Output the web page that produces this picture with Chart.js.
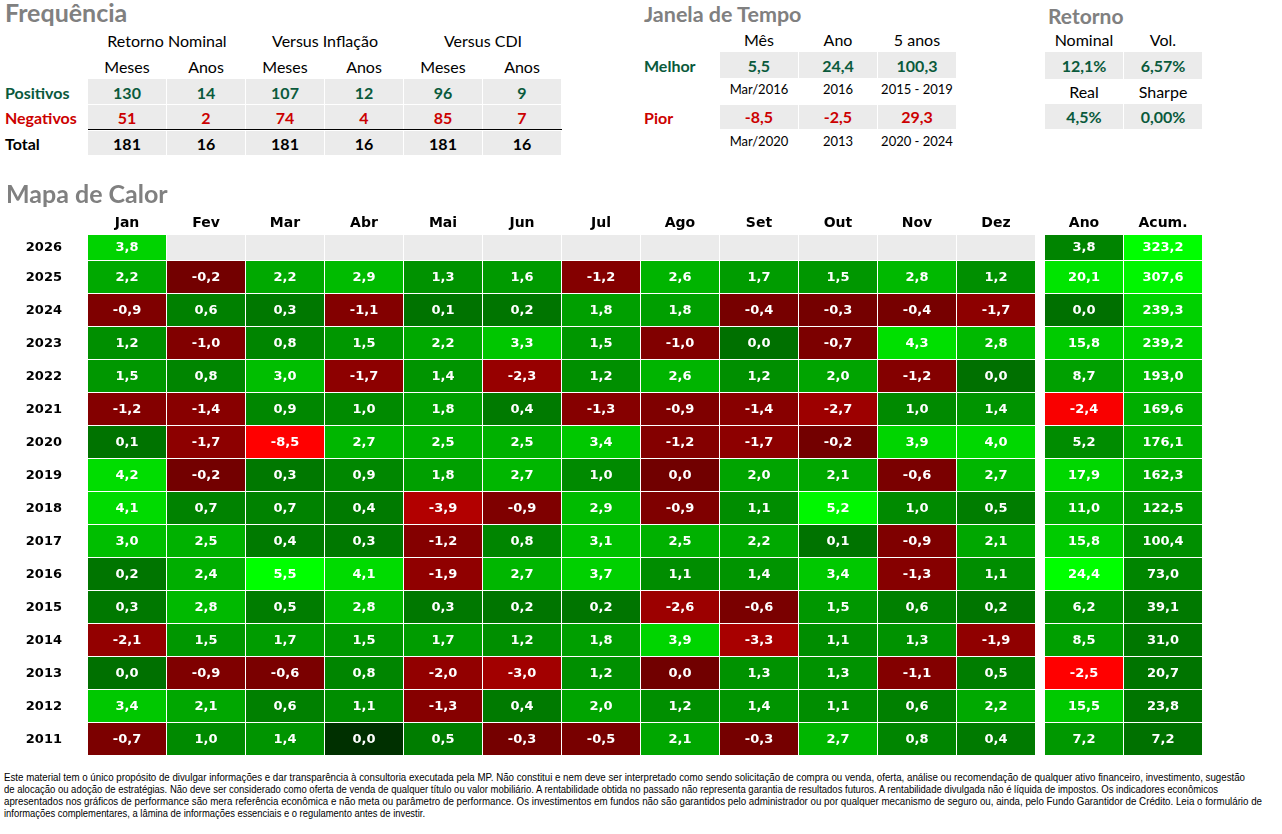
<!DOCTYPE html>
<html><head><meta charset="utf-8">
<script src="https://cdn.jsdelivr.net/npm/chart.js@4/dist/chart.umd.min.js"></script>
<style>
html,body{margin:0;padding:0;background:#fff;}
body{width:1282px;height:834px;overflow:hidden;position:relative;font-family:Lato,"Open Sans",sans-serif;color:#000;}
.abs{position:absolute;white-space:nowrap;line-height:1;}
.title{font-weight:bold;font-size:22px;color:#808080;}
.hdr{font-size:16px;}
.sub{font-size:13px;}
.val{font-weight:bold;font-size:16px;}
.pos{color:#0A5A3C;}
.neg{color:#CC0000;}
.box{position:absolute;background:#EBEBEB;}
.foot{position:absolute;left:4px;white-space:nowrap;font-family:"Liberation Sans Narrow","Liberation Sans",sans-serif;font-size:10.5px;line-height:1;transform-origin:0 50%;}
canvas{position:absolute;left:0;}
</style>
</head><body>
<canvas id="c2026"></canvas>
<canvas id="cRest"></canvas>
<script>
// ---------------- DATA ----------------
const months = ['Jan','Fev','Mar','Abr','Mai','Jun','Jul','Ago','Set','Out','Nov','Dez'];
const summaryCols = ['Ano','Acum.'];
const years = ['2026','2025','2024','2023','2022','2021','2020','2019','2018','2017','2016','2015','2014','2013','2012','2011'];
const monthlyReturns = [
  [3.8, null, null, null, null, null, null, null, null, null, null, null],
  [2.2, -0.2, 2.2, 2.9, 1.3, 1.6, -1.2, 2.6, 1.7, 1.5, 2.8, 1.2],
  [-0.9, 0.6, 0.3, -1.1, 0.1, 0.2, 1.8, 1.8, -0.4, -0.3, -0.4, -1.7],
  [1.2, -1.0, 0.8, 1.5, 2.2, 3.3, 1.5, -1.0, 0.0, -0.7, 4.3, 2.8],
  [1.5, 0.8, 3.0, -1.7, 1.4, -2.3, 1.2, 2.6, 1.2, 2.0, -1.2, 0.0],
  [-1.2, -1.4, 0.9, 1.0, 1.8, 0.4, -1.3, -0.9, -1.4, -2.7, 1.0, 1.4],
  [0.1, -1.7, -8.5, 2.7, 2.5, 2.5, 3.4, -1.2, -1.7, -0.2, 3.9, 4.0],
  [4.2, -0.2, 0.3, 0.9, 1.8, 2.7, 1.0, -0.04, 2.0, 2.1, -0.6, 2.7],
  [4.1, 0.7, 0.7, 0.4, -3.9, -0.9, 2.9, -0.9, 1.1, 5.2, 1.0, 0.5],
  [3.0, 2.5, 0.4, 0.3, -1.2, 0.8, 3.1, 2.5, 2.2, 0.1, -0.9, 2.1],
  [0.2, 2.4, 5.5, 4.1, -1.9, 2.7, 3.7, 1.1, 1.4, 3.4, -1.3, 1.1],
  [0.3, 2.8, 0.5, 2.8, 0.3, 0.2, 0.2, -2.6, -0.6, 1.5, 0.6, 0.2],
  [-2.1, 1.5, 1.7, 1.5, 1.7, 1.2, 1.8, 3.9, -3.3, 1.1, 1.3, -1.9],
  [0.0, -0.9, -0.6, 0.8, -2.0, -3.0, 1.2, -0.04, 1.3, 1.3, -1.1, 0.5],
  [3.4, 2.1, 0.6, 1.1, -1.3, 0.4, 2.0, 1.2, 1.4, 1.1, 0.6, 2.2],
  [-0.7, 1.0, 1.4, 0.0, 0.5, -0.3, -0.5, 2.1, -0.3, 2.7, 0.8, 0.4]
];
const yearReturns = [3.8, 20.1, 0.0, 15.8, 8.7, -2.4, 5.2, 17.9, 11.0, 15.8, 24.4, 6.2, 8.5, -2.5, 15.5, 7.2];
const accumReturns = [323.2, 307.6, 239.3, 239.2, 193.0, 169.6, 176.1, 162.3, 122.5, 100.4, 73.0, 39.1, 31.0, 20.7, 23.8, 7.2];

const freqGroups = ['Retorno Nominal', 'Versus Inflação', 'Versus CDI'];
const freqSubs = ['Meses', 'Anos'];
const freqRowLabels = ['Positivos', 'Negativos', 'Total'];
const freqPositive = [130, 14, 107, 12, 96, 9];
const freqNegative = [51, 2, 74, 4, 85, 7];
const freqTotal = [181, 16, 181, 16, 181, 16];

const windowCols = ['Mês', 'Ano', '5 anos'];
const windowBest = [5.5, 24.4, 100.3];
const windowBestWhen = ['Mar/2016', '2016', '2015 - 2019'];
const windowWorst = [-8.5, -2.5, 29.3];
const windowWorstWhen = ['Mar/2020', '2013', '2020 - 2024'];

const returnTopLabels = ['Nominal', 'Vol.'];
const returnTopValues = [12.1, 6.57];
const returnBottomLabels = ['Real', 'Sharpe'];
const returnBottomValues = [4.5, 0.00];

const disclaimer = [
  'Este material tem o único propósito de divulgar informações e dar transparência à consultoria executada pela MP. Não constitui e nem deve ser interpretado como sendo solicitação de compra ou venda, oferta, análise ou recomendação de qualquer ativo financeiro, investimento, sugestão',
  'de alocação ou adoção de estratégias. Não deve ser considerado como oferta de venda de qualquer título ou valor mobiliário. A rentabilidade obtida no passado não representa garantia de resultados futuros. A rentabilidade divulgada não é líquida de impostos. Os indicadores econômicos',
  'apresentados nos gráficos de performance são mera referência econômica e não meta ou parâmetro de performance. Os investimentos em fundos não são garantidos pelo administrador ou por qualquer mecanismo de seguro ou, ainda, pelo Fundo Garantidor de Crédito. Leia o formulário de',
  'informações complementares, a lâmina de informações essenciais e o regulamento antes de investir.'
];

// ---------------- HELPERS ----------------
function fmt(v, d) {
  if (Math.abs(v) < 0.5 * Math.pow(10, -d)) v = 0;
  return v.toFixed(d).replace('.', ',');
}
function put(text, x, y, cls, left, size) {
  const el = document.createElement('div');
  el.className = 'abs ' + (cls || '');
  el.textContent = text;
  el.style.left = x + 'px';
  el.style.top = y + 'px';
  if (size) el.style.fontSize = size + 'px';
  el.style.transform = left ? 'translate(0,-50%)' : 'translate(-50%,-50%)';
  document.body.appendChild(el);
  return el;
}
function box(x, y, w, h) {
  const el = document.createElement('div');
  el.className = 'box';
  el.style.left = x + 'px'; el.style.top = y + 'px';
  el.style.width = w + 'px'; el.style.height = h + 'px';
  document.body.appendChild(el);
}

// ---------------- TOP TABLES ----------------
const PITCH = 79, X0 = 88, CW = 78;
const colX = i => X0 + i * PITCH;
const colC = i => X0 + i * PITCH + CW / 2;

// Frequência
put('Frequência', 5, 12, 'title', true, 25);
freqGroups.forEach((g, i) => put(g, colX(2 * i) + PITCH, 41, 'hdr'));
for (let i = 0; i < 6; i++) put(freqSubs[i % 2], colC(i), 67, 'hdr');
const freqRows = [[freqPositive, 'pos', 79, 25, 93], [freqNegative, 'neg', 105, 24, 118], [freqTotal, '', 131, 24, 144]];
freqRows.forEach((r, ri) => {
  put(freqRowLabels[ri], 5, r[4], 'val ' + r[1], true);
  r[0].forEach((v, i) => { box(colX(i), r[2], CW, r[3]); });
});
freqRows.forEach((r) => r[0].forEach((v, i) => put(String(v), colC(i), r[4], 'val ' + r[1])));
(function () { const l = document.createElement('div'); l.style.cssText = 'position:absolute;left:88px;top:129px;width:474px;height:1px;background:#000;'; document.body.appendChild(l); })();

// Janela de Tempo
put('Janela de Tempo', 644, 15, 'title', true, 21.5);
windowCols.forEach((c, i) => put(c, colC(8 + i), 40, 'hdr'));
put('Melhor', 644, 66, 'val pos', true);
put('Pior', 644, 118, 'val neg', true);
windowBest.forEach((v, i) => box(colX(8 + i), 52, CW, 26));
windowWorst.forEach((v, i) => box(colX(8 + i), 105, CW, 24));
windowBest.forEach((v, i) => put(fmt(v, 1), colC(8 + i), 66, 'val pos'));
windowWorst.forEach((v, i) => put(fmt(v, 1), colC(8 + i), 117, 'val neg'));
windowBestWhen.forEach((t, i) => put(t, colC(8 + i), 89, 'sub'));
windowWorstWhen.forEach((t, i) => put(t, colC(8 + i), 141, 'sub'));

// Retorno
const RX = 1045;
put('Retorno', 1048, 15, 'title', true, 21);
returnTopLabels.forEach((t, i) => put(t, RX + i * PITCH + CW / 2, 40, 'hdr'));
returnBottomLabels.forEach((t, i) => put(t, RX + i * PITCH + CW / 2, 92, 'hdr'));
returnTopValues.forEach((v, i) => box(RX + i * PITCH, 52, CW, 27));
returnBottomValues.forEach((v, i) => box(RX + i * PITCH, 104, CW, 25));
returnTopValues.forEach((v, i) => put(fmt(v, i === 0 ? 1 : 2) + '%', RX + i * PITCH + CW / 2, 66, 'val pos'));
returnBottomValues.forEach((v, i) => put(fmt(v, i === 0 ? 1 : 2) + '%', RX + i * PITCH + CW / 2, 117, 'val pos'));

// Mapa de Calor title
put('Mapa de Calor', 6, 193, 'title', true, 25);

// Disclaimer
const footTargets = [1241, 1214, 1258, 421];
disclaimer.forEach((t, i) => {
  const el = document.createElement('div');
  el.className = 'foot';
  el.textContent = t;
  el.style.top = (772 + i * 12) + 'px';
  document.body.appendChild(el);
  const w = el.getBoundingClientRect().width;
  el.style.transform = 'scaleX(' + (footTargets[i] / w) + ')';
});

// ---------------- HEATMAP (Chart.js) ----------------
const GAP = 9 / PITCH;
const monthVals = monthlyReturns.flat().filter(v => v !== null);
const ranges = [
  { max: Math.max(...monthVals), min: Math.min(...monthVals), exp: 1.0 },
  { max: Math.max(...yearReturns), min: Math.min(...yearReturns), exp: 1.05 },
  { max: Math.max(...accumReturns), min: Math.min(0, ...accumReturns), exp: 1.3 }
];
const specialCells = { '2011|3': '#003000' };

function cellValue(ci, ri) {
  if (ri === undefined || ri === null) return null;
  if (ci < 12) return monthlyReturns[ri][ci];
  return ci === 12 ? yearReturns[ri] : accumReturns[ri];
}
function cellColor(ci, ri) {
  const v = cellValue(ci, ri);
  if (v === null || v === undefined) return '#EBEBEB';
  const sp = specialCells[years[ri] + '|' + ci];
  if (sp) return sp;
  const r = ranges[ci < 12 ? 0 : ci - 11];
  if (v >= 0) {
    const t = Math.pow(v / r.max, r.exp);
    return 'rgb(0,' + Math.round(112 + 143 * t) + ',0)';
  }
  const t = Math.min(1, Math.abs(v) / Math.abs(r.min));
  return 'rgb(' + Math.round(112 + 143 * t) + ',0,0)';
}

const cellFont = 'bold 13px "DejaVu Sans", Verdana, sans-serif';
const headFont = 'bold 14px "DejaVu Sans", Verdana, sans-serif';

const cellLabels = {
  id: 'cellLabels',
  afterDatasetsDraw(chart) {
    const ctx = chart.ctx;
    ctx.save();
    ctx.font = cellFont;
    ctx.fillStyle = '#fff';
    ctx.textAlign = 'center';
    ctx.textBaseline = 'middle';
    chart.data.datasets.forEach((ds, di) => {
      if (ds.colIndex === undefined) return;
      const meta = chart.getDatasetMeta(di);
      meta.data.forEach((el, k) => {
        const v = cellValue(ds.colIndex, ds.rowIdx[k]);
        if (v === null || v === undefined) return;
        const cx = (el.x + el.base) / 2 - 0.5;
        ctx.fillText(fmt(v, 1), cx, el.y);
      });
    });
    ctx.restore();
  }
};
const colHeaders = {
  id: 'colHeaders',
  afterDatasetsDraw(chart, args, opts) {
    if (!opts.show) return;
    const ctx = chart.ctx;
    ctx.save();
    ctx.font = headFont;
    ctx.fillStyle = '#000';
    ctx.textAlign = 'center';
    ctx.textBaseline = 'middle';
    chart.data.datasets.forEach((ds, di) => {
      if (ds.colIndex === undefined) return;
      const el = chart.getDatasetMeta(di).data[0];
      if (!el) return;
      ctx.fillText(ds.label, (el.x + el.base) / 2 - 0.5, chart.chartArea.top - 12);
    });
    ctx.restore();
  }
};

function makeHeatmap(canvasId, top, height, padTop, rowIdx, showHeaders) {
  const cv = document.getElementById(canvasId);
  cv.style.top = top + 'px';
  cv.style.width = '1203px';
  cv.style.height = height + 'px';
  cv.width = 1203; cv.height = height;
  const colLabels = months.concat(summaryCols);
  const datasets = [];
  const mk = ci => ({
    label: colLabels[ci],
    colIndex: ci,
    rowIdx: rowIdx,
    data: rowIdx.map(() => 1),
    backgroundColor: ctx => cellColor(ci, ctx.type === 'data' ? rowIdx[ctx.dataIndex] : undefined),
    borderColor: '#ffffff',
    borderWidth: { top: 0, left: 0, right: 1, bottom: 1 },
    borderSkipped: false,
    inflateAmount: 0,
    barPercentage: 1,
    categoryPercentage: 1,
    stack: 'grid'
  });
  for (let ci = 0; ci < 12; ci++) datasets.push(mk(ci));
  datasets.push({
    label: 'gap', data: rowIdx.map(() => GAP), backgroundColor: 'rgba(0,0,0,0)',
    borderWidth: 0, barPercentage: 1, categoryPercentage: 1, stack: 'grid'
  });
  datasets.push(mk(12));
  datasets.push(mk(13));
  return new Chart(cv, {
    type: 'bar',
    data: { labels: rowIdx.map(i => years[i]), datasets },
    options: {
      indexAxis: 'y',
      responsive: false,
      maintainAspectRatio: false,
      animation: false,
      devicePixelRatio: 1,
      layout: { padding: { top: padTop, left: 0, right: 0, bottom: 0 }, autoPadding: false },
      plugins: { legend: { display: false }, tooltip: { enabled: false }, colHeaders: { show: showHeaders } },
      scales: {
        x: { type: 'linear', stacked: true, min: 0, max: 14 + GAP, display: false },
        y: {
          type: 'category', stacked: true, offset: true,
          grid: { display: false, drawTicks: false, tickLength: 0 },
          border: { display: false },
          ticks: { color: '#000', font: { family: '"DejaVu Sans", Verdana, sans-serif', size: 13, weight: 'bold' }, padding: 26, crossAlign: 'near' },
          afterFit: s => { s.width = X0; s.paddingTop = 0; s.paddingBottom = 0; }
        }
      }
    },
    plugins: [cellLabels, colHeaders]
  });
}

makeHeatmap('c2026', 200, 61, 35, [0], true);
makeHeatmap('cRest', 261, 495, 0, years.slice(1).map((y, i) => i + 1), false);
</script>
</body></html>
